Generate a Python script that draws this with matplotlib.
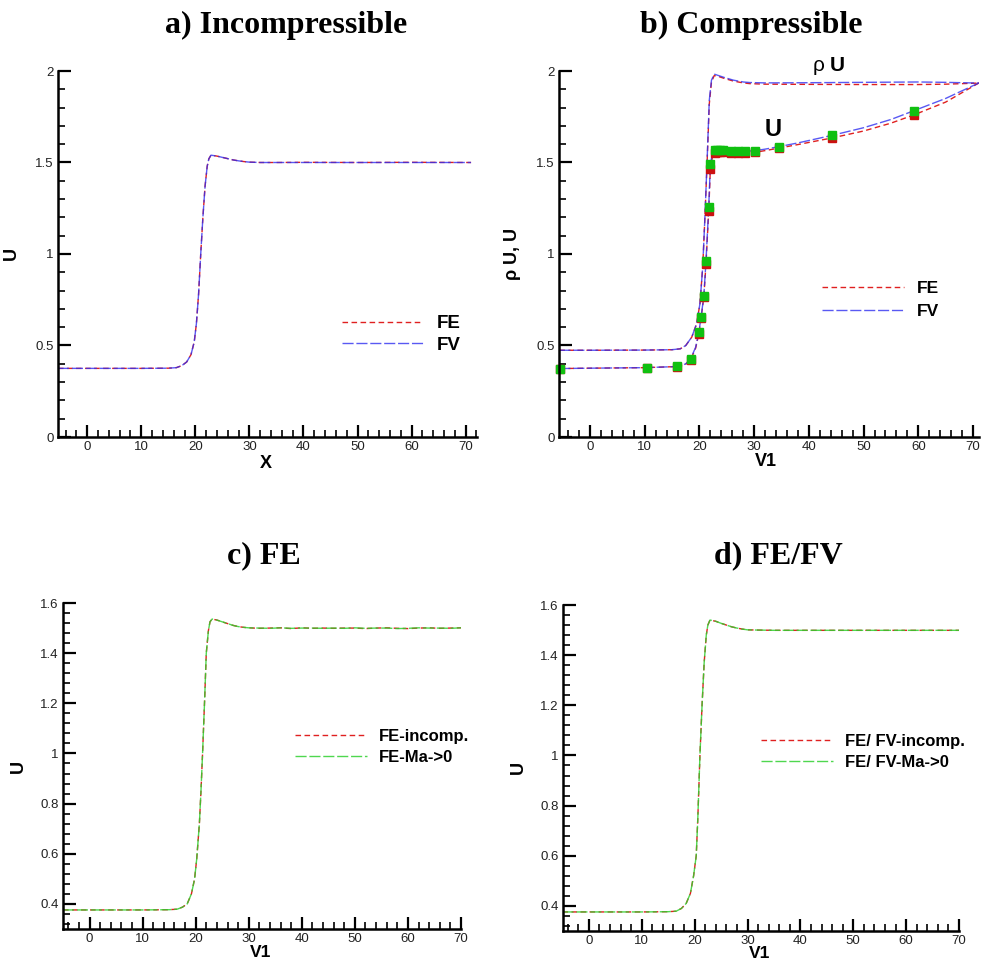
import matplotlib
matplotlib.use("Agg")
import matplotlib.pyplot as plt
from matplotlib.ticker import MultipleLocator, FuncFormatter

plt.rcParams['font.family'] = ['Liberation Sans', 'DejaVu Sans']
plt.rcParams['mathtext.default'] = 'regular'

# a) incompressible, FE and FV
a_x = [-5.4, 0, 10, 15, 16.5, 17.5, 18.4, 19.2, 19.8, 20.2, 20.6, 21.0, 21.4, 21.8, 22.2,
       22.5, 22.9, 24, 25, 26, 27, 28, 29, 30, 32, 35, 40, 50, 60, 71]
a_fe = [0.375, 0.375, 0.375, 0.376, 0.379, 0.39, 0.41, 0.45, 0.52, 0.62, 0.78, 1.00, 1.20,
        1.37, 1.48, 1.52, 1.54, 1.535, 1.528, 1.521, 1.514, 1.509, 1.505, 1.502, 1.50, 1.50,
        1.501, 1.50, 1.501, 1.50]
a_fv = [0.375, 0.375, 0.375, 0.376, 0.379, 0.39, 0.41, 0.45, 0.52, 0.62, 0.78, 1.00, 1.20,
        1.37, 1.48, 1.52, 1.54, 1.535, 1.528, 1.521, 1.514, 1.509, 1.505, 1.502, 1.50, 1.50,
        1.50, 1.50, 1.50, 1.50]

# b) compressible: rho*U and U
rhou_x = [-5.6, 0, 10, 15, 16.5, 17.5, 18.6, 19.5, 20.1, 20.6, 21.0, 21.4, 21.8, 22.2, 22.7,
          23.5, 24.5, 26.2, 28, 29.2, 32, 40, 50, 60, 65, 71.1]
rhou_fv = [0.474, 0.474, 0.475, 0.477, 0.482, 0.50, 0.546, 0.62, 0.73, 0.93, 1.2, 1.51, 1.84,
           1.95, 1.983, 1.975, 1.965, 1.95, 1.94, 1.937, 1.935, 1.936, 1.938, 1.94, 1.938, 1.934]
rhou_fe = [0.474, 0.474, 0.475, 0.477, 0.482, 0.50, 0.546, 0.62, 0.73, 0.93, 1.2, 1.50, 1.82,
           1.94, 1.975, 1.97, 1.96, 1.945, 1.935, 1.931, 1.928, 1.927, 1.926, 1.926, 1.928, 1.934]

ub_x = [-5.6, 0, 10, 15, 16.5, 17.5, 18.4, 19.3, 19.9, 20.3, 20.8, 21.2, 21.7, 22.0, 22.4,
        22.8, 23.5, 24.3, 25.7, 27.1, 28.4, 30.2, 32, 34.6, 38, 44.2, 50, 55, 59.2, 65, 71.1]
ub_fv = [0.374, 0.376, 0.379, 0.384, 0.388, 0.40, 0.428, 0.49, 0.574, 0.656, 0.77, 0.962,
         1.259, 1.494, 1.55, 1.568, 1.57, 1.566, 1.563, 1.561, 1.561, 1.565, 1.573, 1.587,
         1.607, 1.648, 1.69, 1.735, 1.783, 1.85, 1.935]
ub_fe = [0.374, 0.376, 0.379, 0.384, 0.387, 0.398, 0.423, 0.485, 0.565, 0.650, 0.765, 0.947,
         1.237, 1.466, 1.535, 1.552, 1.556, 1.556, 1.553, 1.552, 1.552, 1.556, 1.565, 1.579,
         1.598, 1.634, 1.672, 1.715, 1.760, 1.83, 1.935]

# symbols on the U curve
mk_x = [-5.5, 10.5, 15.9, 18.4, 19.9, 20.3, 20.8, 21.2, 21.7, 22.0, 22.8, 23.2, 23.7, 24.3,
        25.7, 27.1, 28.4, 30.2, 34.6, 44.2, 59.2]
mk_fv = [0.373, 0.379, 0.386, 0.428, 0.574, 0.656, 0.770, 0.962, 1.259, 1.494, 1.570, 1.570,
         1.570, 1.566, 1.563, 1.561, 1.561, 1.565, 1.587, 1.648, 1.783]
mk_fe = [0.372, 0.378, 0.384, 0.423, 0.565, 0.650, 0.765, 0.947, 1.237, 1.466, 1.552, 1.556,
         1.556, 1.556, 1.553, 1.552, 1.552, 1.556, 1.579, 1.634, 1.760]

# c) FE, incompressible vs Ma->0
c_x = [-5, 0, 10, 15, 16.5, 17.5, 18.4, 19.2, 19.8, 20.2, 20.7, 21.0, 21.3, 21.7, 22.0, 22.4,
       22.7, 23.1, 24, 25, 26, 27, 28, 29, 30, 32, 34, 36, 38, 40, 42, 44, 46, 48, 50, 52,
       54, 56, 58, 60, 62, 64, 66, 68, 70]
c_inc = [0.376, 0.376, 0.376, 0.377, 0.379, 0.387, 0.40, 0.44, 0.50, 0.58, 0.72, 0.85, 1.00,
         1.22, 1.40, 1.49, 1.525, 1.536, 1.532, 1.525, 1.518, 1.511, 1.506, 1.503, 1.501,
         1.499, 1.500, 1.501, 1.498, 1.501, 1.499, 1.500, 1.499, 1.500, 1.500, 1.498, 1.500,
         1.501, 1.499, 1.498, 1.500, 1.501, 1.499, 1.500, 1.501]
c_ma0 = [0.376, 0.376, 0.376, 0.377, 0.379, 0.387, 0.40, 0.44, 0.50, 0.58, 0.72, 0.85, 1.00,
         1.22, 1.40, 1.49, 1.525, 1.536, 1.532, 1.525, 1.518, 1.511, 1.506, 1.503, 1.501,
         1.500, 1.499, 1.501, 1.499, 1.500, 1.500, 1.499, 1.500, 1.499, 1.501, 1.499, 1.500,
         1.500, 1.498, 1.499, 1.501, 1.500, 1.500, 1.499, 1.501]

# d) FE/FV, incompressible vs Ma->0
d_x = [-5, 0, 10, 15, 16.5, 17.5, 18.4, 19.2, 19.8, 20.3, 20.6, 21.0, 21.4, 21.8, 22.2, 22.5,
       22.9, 24, 25, 26, 27, 28, 29, 30, 32, 35, 40, 50, 60, 70]
d_inc = [0.376, 0.376, 0.376, 0.377, 0.379, 0.39, 0.41, 0.45, 0.52, 0.60, 0.75, 1.00, 1.20,
         1.37, 1.48, 1.52, 1.54, 1.535, 1.527, 1.52, 1.513, 1.508, 1.504, 1.501, 1.50, 1.499,
         1.499, 1.499, 1.499, 1.499]
d_ma0 = d_inc

red = '#e02020'
blue = '#3030f0'
green = '#30d030'

fig = plt.figure(figsize=(9.82, 9.63), dpi=100)
W, H = 982.0, 963.0


def make_ax(l, r, b, t):
    return fig.add_axes([l / W, 1 - b / H, (r - l) / W, (b - t) / H])


def style(ax, xlim, ylim, ymaj, ymin):
    ax.set_xlim(*xlim)
    ax.set_ylim(*ylim)
    for s in ['top', 'right']:
        ax.spines[s].set_visible(False)
    for s in ['left', 'bottom']:
        ax.spines[s].set_linewidth(1.8)
    ax.xaxis.set_major_locator(MultipleLocator(10))
    ax.xaxis.set_minor_locator(MultipleLocator(2))
    ax.yaxis.set_major_locator(MultipleLocator(ymaj))
    ax.yaxis.set_minor_locator(MultipleLocator(ymin))
    fmt = FuncFormatter(lambda v, p: '%g' % round(v, 3))
    ax.xaxis.set_major_formatter(fmt)
    ax.yaxis.set_major_formatter(fmt)
    ax.tick_params(which='major', direction='in', length=9, width=1.6, labelsize=9.5,
                   pad=3, colors='black', labelcolor='#222222')
    ax.tick_params(which='minor', direction='in', length=5, width=1.2)


def leg(ax, x0, y0, fs, hl, ls):
    ax.legend(loc='center left', bbox_to_anchor=(x0 / W, 1 - y0 / H),
              bbox_transform=fig.transFigure, frameon=False, borderpad=0,
              borderaxespad=0, handlelength=hl, handletextpad=0.75, labelspacing=ls,
              prop={'family': 'Liberation Sans', 'weight': 'bold', 'size': fs})


short_dash = (0, (4, 2.5))
long_dash = (0, (8, 2))

# panel a
ax = make_ax(58, 477, 437, 71)
ax.plot(a_x, a_fe, color=red, lw=1.0, ls=short_dash, label='FE')
ax.plot(a_x, a_fv, color=blue, lw=1.0, ls=long_dash, alpha=0.8, label='FV')
style(ax, (-5.4, 72.1), (0, 2), 0.5, 0.1)
ax.set_xlabel('X', fontsize=13, fontweight='bold')
ax.set_ylabel('U', fontsize=13, fontweight='bold')
ax.xaxis.set_label_coords(0.496, -0.048)
ax.yaxis.set_label_coords(-0.09, 0.5)
leg(ax, 342, 334.5, 13.5, 4.3, 0.25)

# panel b
ax = make_ax(559, 979, 437, 71)
ax.plot(rhou_x, rhou_fe, color=red, lw=1.0, ls=short_dash, label='FE')
ax.plot(rhou_x, rhou_fv, color=blue, lw=1.0, ls=long_dash, alpha=0.8, label='FV')
ax.plot(ub_x, ub_fe, color=red, lw=1.0, ls=short_dash)
ax.plot(ub_x, ub_fv, color=blue, lw=1.0, ls=long_dash, alpha=0.8)
ax.plot(mk_x, mk_fe, ls='none', marker='s', ms=5.5, color='#cc1010', clip_on=False)
ax.plot(mk_x, mk_fv, ls='none', marker='s', ms=5.5, color='#10c010', clip_on=False)
style(ax, (-5.67, 71.1), (0, 2), 0.5, 0.1)
ax.set_xlabel('V1', fontsize=13, fontweight='bold')
ax.set_ylabel(r'$\rho$ U, U', fontsize=13, fontweight='bold')
ax.xaxis.set_label_coords(0.493, -0.043)
ax.yaxis.set_label_coords(-0.086, 0.5)
ax.text(42.9, 2.03, 'ρ', fontsize=15, ha='right', va='center', clip_on=False)
ax.text(43.9, 2.03, 'U', fontsize=15, fontweight='bold', ha='left', va='center',
        clip_on=False)
ax.text(33.4, 1.68, 'U', fontsize=17, fontweight='bold', ha='center', va='center')
leg(ax, 822, 300, 12.5, 4.7, 0.5)

# panel c
ax = make_ax(63, 461, 929, 603)
ax.plot(c_x, c_inc, color=red, lw=1.0, ls=short_dash, label='FE-incomp.')
ax.plot(c_x, c_ma0, color=green, lw=1.0, ls=long_dash, alpha=0.85, label='FE-Ma->0')
style(ax, (-5, 70), (0.3, 1.6), 0.2, 0.04)
ax.set_xlabel('V1', fontsize=12.5, fontweight='bold')
ax.set_ylabel('U', fontsize=13, fontweight='bold')
ax.xaxis.set_label_coords(0.497, -0.05)
ax.yaxis.set_label_coords(-0.09, 0.5)
leg(ax, 295, 747, 12, 4.3, 0.33)

# panel d
ax = make_ax(563, 959, 931, 605)
ax.plot(d_x, d_inc, color=red, lw=1.0, ls=short_dash, label='FE/ FV-incomp.')
ax.plot(d_x, d_ma0, color=green, lw=1.0, ls=long_dash, alpha=0.85, label='FE/ FV-Ma->0')
style(ax, (-4.9, 70), (0.3, 1.6), 0.2, 0.04)
ax.set_xlabel('V1', fontsize=12.5, fontweight='bold')
ax.set_ylabel('U', fontsize=13, fontweight='bold')
ax.xaxis.set_label_coords(0.497, -0.046)
ax.yaxis.set_label_coords(-0.091, 0.5)
leg(ax, 761, 752, 12, 4.3, 0.33)

# panel titles
tkw = dict(ha='center', va='baseline', fontsize=23, fontweight='bold',
           family='Liberation Serif')
fig.text(286.5 / W, 1 - 33 / H, 'a) Incompressible', **tkw)
fig.text(751.5 / W, 1 - 33 / H, 'b) Compressible', **tkw)
fig.text(264 / W, 1 - 563 / H, 'c) FE', **tkw)
fig.text(778 / W, 1 - 563 / H, 'd) FE/FV', **tkw)

fig.savefig('out.png', dpi=100)
